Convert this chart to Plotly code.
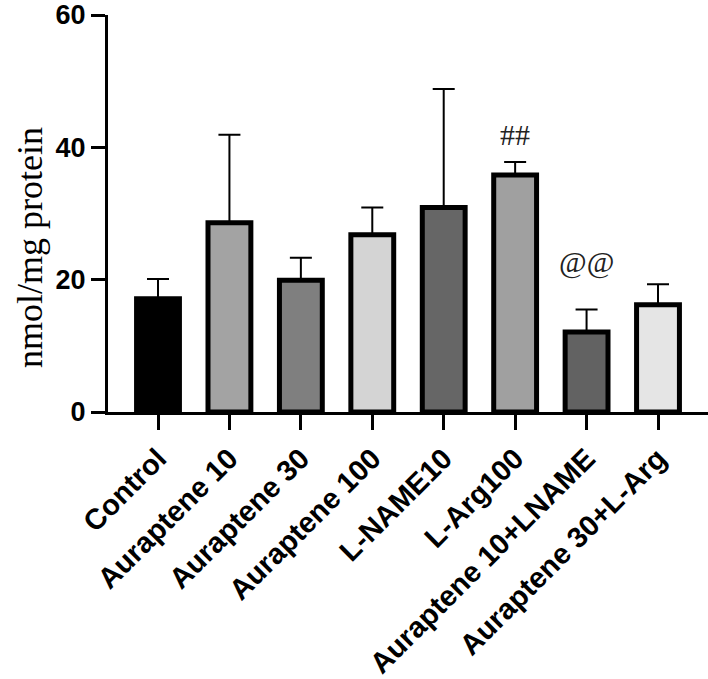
import plotly.graph_objects as go

categories = ["Control", "Auraptene 10", "Auraptene 30", "Auraptene 100", "L-NAME10",
              "L-Arg100", "Auraptene 10+LNAME", "Auraptene 30+L-Arg"]
means = [17.1, 28.6, 19.9, 26.8, 30.9, 35.8, 12.1, 16.2]
sem = [3.0, 13.3, 3.4, 4.1, 17.9, 2.0, 3.4, 3.1]
colors = ["#000000", "#a3a3a3", "#7f7f7f", "#d4d4d4", "#666666", "#a0a0a0", "#626262", "#e5e5e5"]
sig_labels = [("L-Arg100", 41.9, "##"), ("Auraptene 10+LNAME", 22.6, "@@")]
yticks = [0, 20, 40, 60]

fig = go.Figure()
fig.add_trace(go.Bar(
    x=categories, y=means, width=0.6,
    marker=dict(color=colors, line=dict(color="#000000", width=5)),
    error_y=dict(type="data", array=sem, arrayminus=[0] * len(sem), symmetric=False,
                 color="#000000", thickness=2, width=11),
    showlegend=False,
))

for cat, yv, txt in sig_labels:
    fig.add_annotation(x=cat, y=yv, text=txt, showarrow=False,
                       font=dict(family="Liberation Serif, Times New Roman, serif", size=30, color="#222222"))

fig.add_annotation(xref="paper", yref="paper", x=-0.13, y=0.413, text="nmol/mg protein",
                   textangle=-90, showarrow=False, xanchor="center", yanchor="middle",
                   font=dict(family="Liberation Serif, Times New Roman, serif", size=36, color="#000000"))

fig.update_layout(
    width=708, height=679,
    margin=dict(l=108, r=0, t=15, b=267, autoexpand=False),
    plot_bgcolor="white", paper_bgcolor="white",
    xaxis=dict(range=[-0.7, 7.7], showline=True, linecolor="#000000", linewidth=3,
               ticks="outside", ticklen=15, tickwidth=3, tickcolor="#000000",
               tickangle=-45, showgrid=False, zeroline=False, automargin=False,
               ticklabeloverflow="allow",
               tickfont=dict(family="Liberation Sans, Arial, sans-serif", size=29, color="#000000", weight="bold")),
    yaxis=dict(range=[0, 60], tickvals=yticks, showline=True, linecolor="#000000", linewidth=3,
               ticks="outside", ticklen=14, tickwidth=3, tickcolor="#000000",
               showgrid=False, zeroline=False, automargin=False,
               ticklabeloverflow="allow",
               tickfont=dict(family="Liberation Sans, Arial, sans-serif", size=27, color="#000000", weight="bold")),
)

fig.write_html("out.html", config={"displayModeBar": False},
               post_script="document.body.style.margin='0';")
